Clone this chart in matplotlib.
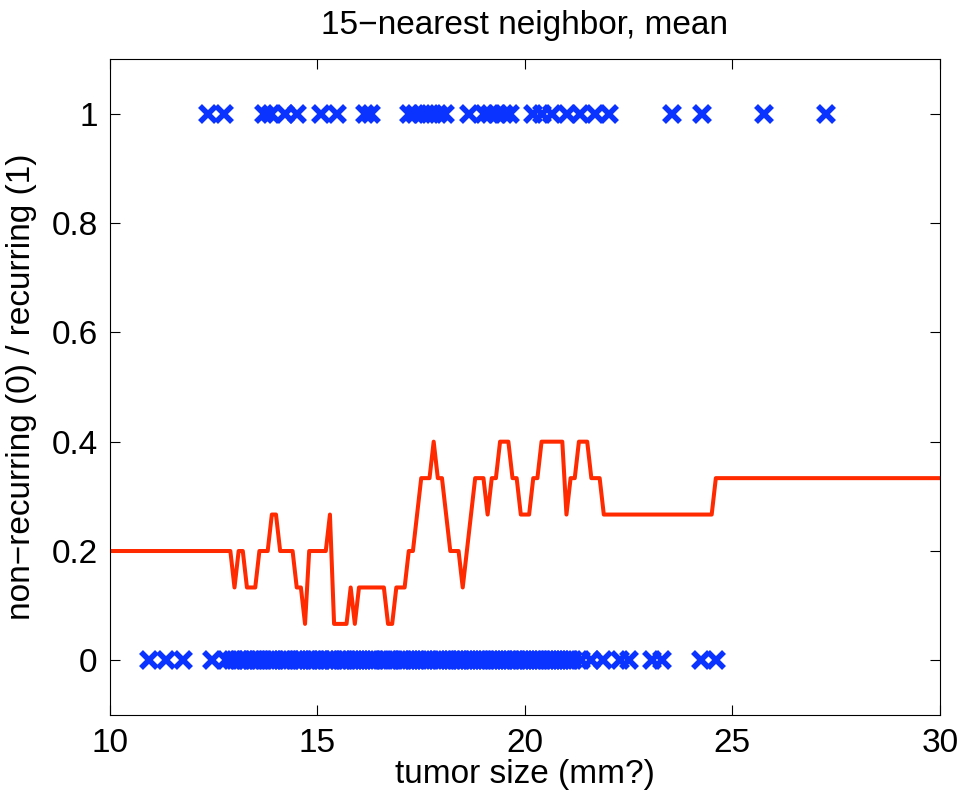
import matplotlib
matplotlib.use("Agg")
import matplotlib.pyplot as plt

plt.rcParams['font.family'] = ['Liberation Sans', 'DejaVu Sans']

# tumor sizes of recurring cases (y = 1)
recurring = [12.36, 12.75, 13.72, 13.88, 14.22, 14.51, 15.09, 15.48, 16.15, 16.28,
             17.20, 17.35, 17.52, 17.71, 17.90, 18.08, 18.66, 19.01, 19.16, 19.33,
             19.49, 19.65, 20.19, 20.41, 20.65, 21.01, 21.33, 21.69, 22.02, 23.55,
             24.27, 25.75, 27.25]

# tumor sizes of non-recurring cases (y = 0)
non_recurring = [10.95, 11.35, 11.77, 12.46, 12.79,
                 12.95, 13.02, 13.10, 13.16, 13.25, 13.31, 13.40, 13.47, 13.55, 13.61,
                 13.70, 13.78, 13.85, 13.92, 13.98, 14.15, 14.22, 14.30, 14.36, 14.45,
                 14.52, 14.60, 14.66, 14.75, 14.81, 14.90, 14.97, 15.05, 15.12, 15.20,
                 15.27, 15.35, 15.41, 15.50, 15.58, 15.65, 15.71, 15.80, 15.88, 15.95,
                 16.02, 16.10, 16.18, 16.25, 16.32, 16.38, 16.57, 16.63, 16.70, 16.76,
                 16.82, 17.01, 17.07, 17.15, 17.22, 17.30, 17.37, 17.45, 17.52, 17.60,
                 17.69, 17.88, 17.95, 18.03, 18.10, 18.18, 18.25, 18.33, 18.40, 18.47,
                 18.55, 18.62, 18.70, 18.77, 18.85, 18.92, 19.00, 19.07, 19.15, 19.22,
                 19.30, 19.38, 19.45, 19.52, 19.60, 19.67, 19.75, 19.82, 19.90, 19.97,
                 20.05, 20.12, 20.20, 20.27, 20.35, 20.42, 20.50, 20.57, 20.65, 20.72,
                 20.80, 20.87, 20.95, 21.02, 21.08, 21.15, 21.35, 21.58, 21.88,
                 22.30, 22.50, 23.05, 23.30, 24.25, 24.60]

# 15-nearest neighbor mean (breakpoints of the red curve)
knn_x = [10.0, 12.9, 13.0, 13.1, 13.2, 13.3, 13.5, 13.6, 13.8, 13.9, 14.0, 14.1,
         14.4, 14.5, 14.6, 14.7, 14.8, 15.2, 15.3, 15.4, 15.7, 15.8, 15.9, 16.0,
         16.6, 16.7, 16.8, 16.9, 17.1, 17.2, 17.3, 17.5, 17.7, 17.8, 17.9, 18.0,
         18.2, 18.4, 18.5, 18.8, 19.0, 19.1, 19.2, 19.3, 19.4, 19.6, 19.7, 19.8,
         19.9, 20.1, 20.2, 20.3, 20.4, 20.9, 21.0, 21.1, 21.2, 21.3, 21.5, 21.6,
         21.8, 21.9, 24.5, 24.6, 30.0]
knn_y = [0.2, 0.2, 0.1333, 0.2, 0.2, 0.1333, 0.1333, 0.2, 0.2, 0.2667, 0.2667, 0.2,
         0.2, 0.1333, 0.1333, 0.0667, 0.2, 0.2, 0.2667, 0.0667, 0.0667, 0.1333, 0.0667, 0.1333,
         0.1333, 0.0667, 0.0667, 0.1333, 0.1333, 0.2, 0.2, 0.3333, 0.3333, 0.4, 0.3333, 0.3333,
         0.2, 0.2, 0.1333, 0.3333, 0.3333, 0.2667, 0.3333, 0.3333, 0.4, 0.4, 0.3333, 0.3333,
         0.2667, 0.2667, 0.3333, 0.3333, 0.4, 0.4, 0.2667, 0.3333, 0.3333, 0.4, 0.4, 0.3333,
         0.3333, 0.2667, 0.2667, 0.3333, 0.3333]

x_ticks = [10, 15, 20, 25, 30]
y_ticks = [0, 0.2, 0.4, 0.6, 0.8, 1]
y_tick_labels = ["0", "0.2", "0.4", "0.6", "0.8", "1"]

fig = plt.figure(figsize=(9.65, 7.95), dpi=100)
ax = fig.add_axes([0.114, 0.1006, 0.86, 0.8252])

blue = '#0b33ff'
ax.plot(recurring, [1] * len(recurring), 'x', color=blue, ms=11.5, mew=4)
ax.plot(non_recurring, [0] * len(non_recurring), 'x', color=blue, ms=11.5, mew=4)
ax.plot(knn_x, knn_y, color='#ff2a00', lw=2.9)

ax.set_xlim(10, 30)
ax.set_ylim(-0.1, 1.1)
ax.set_xticks(x_ticks)
ax.set_yticks(y_ticks)
ax.set_yticklabels(y_tick_labels)
ax.tick_params(direction='in', length=7, width=0.8, top=True, right=True,
               labelsize=24, pad=9)

ax.set_title("15\u2212nearest neighbor, mean", fontsize=24, pad=18)
ax.set_xlabel("tumor size (mm?)", fontsize=24, labelpad=0)
ax.set_ylabel("non\u2212recurring (0) / recurring (1)", fontsize=24, labelpad=10)

fig.savefig("out.png", dpi=100)
